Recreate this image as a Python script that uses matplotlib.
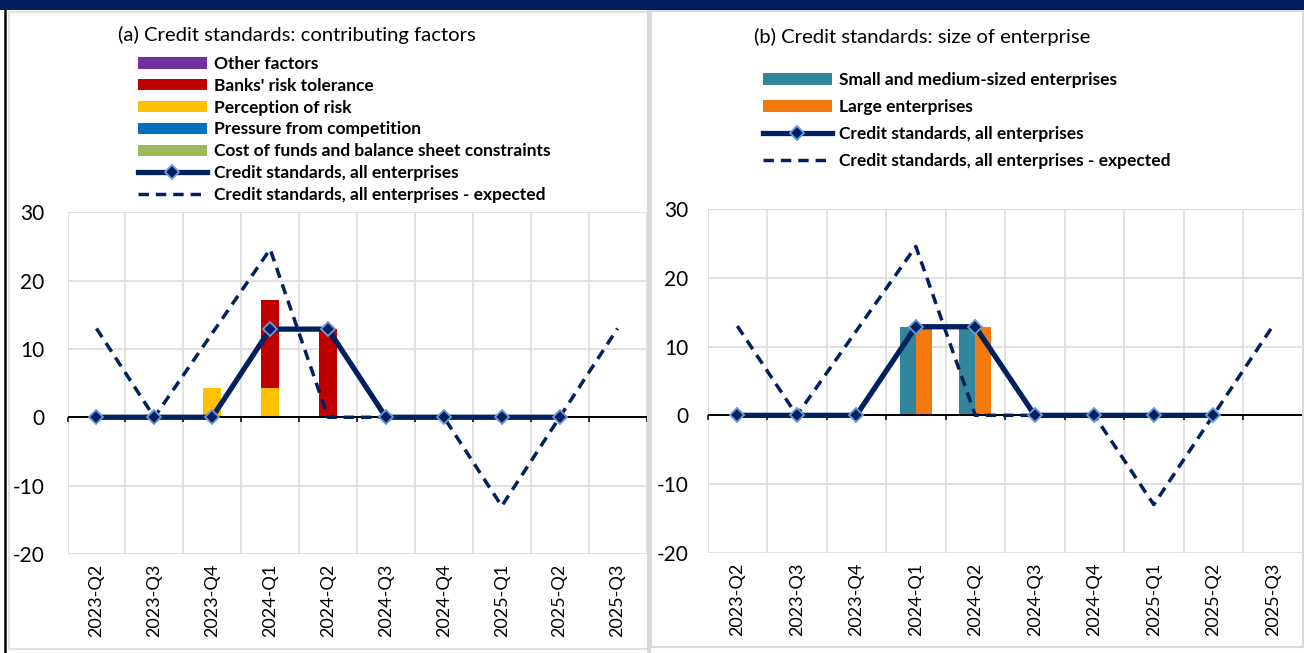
import matplotlib
matplotlib.use("Agg")
import matplotlib.pyplot as plt
import numpy as np
from matplotlib.patches import Patch, Rectangle
from matplotlib.lines import Line2D

# ---------------- data ----------------
quarters = ['2023-Q2', '2023-Q3', '2023-Q4', '2024-Q1', '2024-Q2',
            '2024-Q3', '2024-Q4', '2025-Q1', '2025-Q2', '2025-Q3']
# realised (2023-Q2 .. 2025-Q2)
cs_all = [0, 0, 0, 12.9, 12.9, 0, 0, 0, 0]
# expected (2023-Q2 .. 2025-Q3)
cs_expected = [13.0, 0, 12.3, 24.6, 0, 0, 0, -13.0, 0, 13.0]

# panel (a) contributing factors
cost_of_funds = [0, 0, 0, 0, 0, 0, 0, 0, 0]
pressure_competition = [0, 0, 0, 0, 0, 0, 0, 0, 0]
perception_risk = [0, 0, 4.3, 4.3, 0, 0, 0, 0, 0]
banks_risk_tolerance = [0, 0, 0, 12.9, 12.9, 0, 0, 0, 0]
other_factors = [0, 0, 0, 0, 0, 0, 0, 0, 0]

# panel (b) size of enterprise
sme = [0, 0, 0, 12.9, 12.9, 0, 0, 0, 0]
large = [0, 0, 0, 12.9, 12.9, 0, 0, 0, 0]

# ---------------- style ----------------
W, H = 1304, 653
plt.rcParams['font.family'] = ['Lato', 'DejaVu Sans']
plt.rcParams['axes.unicode_minus'] = False
NAVY = '#002060'
MEC = '#6A9BD8'
GRID = '#D9D9D9'
C_OTHER = '#7030A0'
C_BANKS = '#C00000'
C_PERC = '#FFC000'
C_PRESS = '#0070C0'
C_COST = '#9BBB59'
C_SME = '#31869B'
C_LARGE = '#F47A10'

fig = plt.figure(figsize=(W / 100, H / 100), dpi=100)


def fx(px):
    return px / W


def fy(py):
    return 1 - py / H


# frames
fig.patches.append(Rectangle((fx(9), fy(649)), fx(639), (649 - 12) / H,
                             transform=fig.transFigure, facecolor='none',
                             edgecolor=GRID, lw=1.2, zorder=1))
fig.patches.append(Rectangle((fx(647), 0), fx(4), 1,
                             transform=fig.transFigure, facecolor=GRID,
                             edgecolor='none', zorder=1))
fig.patches.append(Rectangle((fx(651), fy(647)), fx(652), (647 - 11) / H,
                             transform=fig.transFigure, facecolor='none',
                             edgecolor=GRID, lw=1.5, zorder=1))
fig.add_artist(Line2D([fx(5), fx(5)], [0.0, 1.0], transform=fig.transFigure,
                      color='black', lw=1.8, zorder=20))
fig.patches.append(Rectangle((0, fy(10)), 1, 10 / H, transform=fig.transFigure,
                             facecolor='#001F5C', edgecolor='none', zorder=21))


def setup_axes(ax, ylabpad):
    n = len(quarters)
    x = np.arange(n)
    ax.set_xlim(-0.5, n - 0.5)
    ax.set_ylim(-20, 30)
    ax.set_yticks([-20, -10, 0, 10, 20, 30])
    ax.set_xticks(x)
    ax.set_xticklabels(quarters, rotation=90, fontsize=13)
    ax.set_xticks(np.arange(n + 1) - 0.5, minor=True)
    ax.tick_params(axis='x', which='both', length=0, pad=7)
    ax.tick_params(axis='y', length=0, labelsize=15, pad=ylabpad)
    ax.grid(True, axis='y', which='major', color=GRID, lw=1.1)
    ax.grid(True, axis='x', which='minor', color=GRID, lw=1.1)
    ax.set_axisbelow(True)
    for s in ax.spines.values():
        s.set_visible(False)
    ax.axhline(0, color='black', lw=1.4, zorder=3)
    ax.vlines(np.arange(n + 1) - 0.5, -0.75, 0, color='black', lw=1.1,
              zorder=3, clip_on=False)


def draw_lines(ax):
    xa = np.arange(len(cs_all))
    xe = np.arange(len(cs_expected))
    ax.plot(xe, cs_expected, color=NAVY, lw=2.5, ls=(0, (3, 2)), zorder=4,
            solid_capstyle='butt', dash_capstyle='butt')
    ax.plot(xa, cs_all, color=NAVY, lw=3.8, marker='D', ms=7.6, mfc=NAVY,
            mec=MEC, mew=1.3, zorder=5)


# ---------------- panel (a) ----------------
ax_a = fig.add_axes([fx(67.5), fy(553.9), fx(579), (553.9 - 212.3) / H])
setup_axes(ax_a, 16.5)
xb = np.arange(len(cost_of_funds))
bw = 0.31
bottom = np.zeros(len(xb))
for vals, col in [(cost_of_funds, C_COST), (pressure_competition, C_PRESS),
                  (perception_risk, C_PERC), (banks_risk_tolerance, C_BANKS),
                  (other_factors, C_OTHER)]:
    v = np.array(vals, dtype=float)
    ax_a.bar(xb, v, bw, bottom=bottom, color=col, lw=0, zorder=2)
    bottom = bottom + v
draw_lines(ax_a)

fig.text(fx(296.5), fy(35), '(a) Credit standards: contributing factors',
         ha='center', va='center', fontsize=14.6)

line_solid = Line2D([], [], color=NAVY, lw=3.8, marker='D', ms=7.6, mfc=NAVY,
                    mec=MEC, mew=1.3)
line_dash = Line2D([], [], color=NAVY, lw=2.5, ls=(0, (3, 2)))
handles_a = [Patch(facecolor=C_OTHER), Patch(facecolor=C_BANKS),
             Patch(facecolor=C_PERC), Patch(facecolor=C_PRESS),
             Patch(facecolor=C_COST), line_solid, line_dash]
labels_a = ['Other factors', "Banks' risk tolerance", 'Perception of risk',
            'Pressure from competition',
            'Cost of funds and balance sheet constraints',
            'Credit standards, all enterprises',
            'Credit standards, all enterprises - expected']
leg_a = fig.legend(handles_a, labels_a, loc='upper left',
                   bbox_to_anchor=(fx(138), fy(56)), frameon=False,
                   borderpad=0, borderaxespad=0, handlelength=3.95,
                   handleheight=0.62, handletextpad=0.4, labelspacing=0.335,
                   prop={'weight': 'bold', 'size': 12.5})

# ---------------- panel (b) ----------------
ax_b = fig.add_axes([fx(707.6), fy(552.7), fx(594.9), (552.7 - 209.3) / H])
setup_axes(ax_b, 14)
bw2 = 0.27
ax_b.bar(xb - bw2 / 2, sme, bw2, color=C_SME, lw=0, zorder=2)
ax_b.bar(xb + bw2 / 2, large, bw2, color=C_LARGE, lw=0, zorder=2)
draw_lines(ax_b)

fig.text(fx(922.5), fy(37), '(b) Credit standards: size of enterprise',
         ha='center', va='center', fontsize=14.6)
handles_b = [Patch(facecolor=C_SME), Patch(facecolor=C_LARGE),
             line_solid, line_dash]
labels_b = ['Small and medium-sized enterprises', 'Large enterprises',
            'Credit standards, all enterprises',
            'Credit standards, all enterprises - expected']
leg_b = fig.legend(handles_b, labels_b, loc='upper left',
                   bbox_to_anchor=(fx(763), fy(72)), frameon=False,
                   borderpad=0, borderaxespad=0, handlelength=3.95,
                   handleheight=0.62, handletextpad=0.45, labelspacing=0.64,
                   prop={'weight': 'bold', 'size': 12.5})

fig.savefig('out.png', dpi=100)
